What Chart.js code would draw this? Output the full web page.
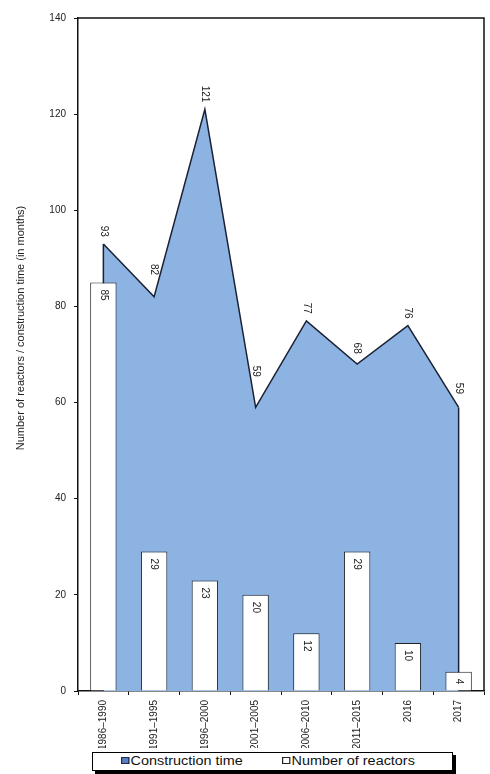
<!DOCTYPE html>
<html>
<head>
<meta charset="utf-8">
<script src="https://cdn.jsdelivr.net/npm/chart.js@4"></script>
<style>
  html, body { margin: 0; padding: 0; background: #fff; }
  #wrap { position: relative; width: 490px; height: 774px; }
  #chartBox { position: absolute; left: 0; top: 0; width: 490px; height: 748px; }
  #legend {
    position: absolute; left: 92px; top: 752px; width: 359px; height: 17px;
    border: 1px solid #000; box-shadow: 3px 3px 0 #000; background: #fff;
    font: 12px "Liberation Sans", Arial, sans-serif; color: #111;
  }
  #legend .item { position: absolute; top: 1px; white-space: nowrap; transform: scaleX(1.2); transform-origin: left center; }
  #legend span.sw { display: inline-block; width: 5px; height: 5px; border: 1px solid #222; margin-right: 1px; vertical-align: 1px; }
</style>
</head>
<body>
<div id="wrap">
  <div id="chartBox"><canvas id="myChart"></canvas></div>
  <div id="legend">
    <div class="item" style="left:28px"><span class="sw" style="background:#5a7fc0;border-color:#1f2a50"></span>Construction time</div>
    <div class="item" style="left:189px"><span class="sw" style="background:#fff"></span>Number of reactors</div>
  </div>
</div>
<script>
var categories = ["1986–1990", "1991–1995", "1996–2000", "2001–2005", "2006–2010", "2011–2015", "2016", "2017"];
var constructionTime = [93, 82, 121, 59, 77, 68, 76, 59];
var reactorCount = [85, 29, 23, 20, 12, 29, 10, 4];
var yMin = 0, yMax = 140, yStep = 20;
var yTitle = 'Number of reactors / construction time (in months)';

var labelFont = '10px "Liberation Sans", Arial, sans-serif';

// how far the line climbs above point i within dx pixels either side
function clearance(pts, i, dx) {
  var up = 0;
  [i - 1, i + 1].forEach(function (j) {
    if (j < 0 || j >= pts.length) return;
    var slope = (pts[i].y - pts[j].y) / Math.abs(pts[j].x - pts[i].x);
    if (slope > 0) up = Math.max(up, slope * dx);
  });
  return up;
}

// value labels, axis title, plus the vertical sides of the area
var valueLabels = {
  id: 'valueLabels',
  afterDatasetDraw: function (chart, args) {
    if (args.index !== 0) return;
    var ctx = chart.ctx;
    var pts = chart.getDatasetMeta(0).data;
    var y0 = chart.scales.y.getPixelForValue(0);
    ctx.save();
    ctx.strokeStyle = '#1b2236';
    ctx.lineWidth = 1.5;
    ctx.beginPath();
    ctx.moveTo(pts[0].x, pts[0].y); ctx.lineTo(pts[0].x, y0);
    var last = pts[pts.length - 1];
    ctx.moveTo(last.x, last.y); ctx.lineTo(last.x, y0);
    ctx.stroke();
    ctx.restore();
  },
  afterDatasetsDraw: function (chart) {
    var ctx = chart.ctx;
    ctx.save();
    ctx.font = labelFont;
    ctx.fillStyle = '#222';
    ctx.textAlign = 'center';
    ctx.textBaseline = 'middle';
    var pts = chart.getDatasetMeta(0).data;
    pts.forEach(function (p, i) {
      var t = String(constructionTime[i]);
      var w = ctx.measureText(t).width;
      var off = 7 + clearance(pts, i, 4);
      ctx.save();
      ctx.translate(p.x, p.y - off - w / 2);
      ctx.rotate(Math.PI / 2);
      ctx.fillText(t, 0, 0);
      ctx.restore();
    });
    chart.getDatasetMeta(1).data.forEach(function (b, i) {
      var t = String(reactorCount[i]);
      var w = ctx.measureText(t).width;
      ctx.save();
      ctx.translate(b.x, b.y + 7 + w / 2);
      ctx.rotate(Math.PI / 2);
      ctx.fillText(t, 0, 0);
      ctx.restore();
    });
    // frame round the plot area
    var a = chart.chartArea;
    ctx.strokeStyle = '#111';
    ctx.lineWidth = 1.5;
    ctx.beginPath();
    ctx.moveTo(a.left, a.top); ctx.lineTo(a.right, a.top); ctx.lineTo(a.right, a.bottom);
    ctx.stroke();
    // y axis title
    ctx.font = '11px "Liberation Sans", Arial, sans-serif';
    ctx.translate(21, 328);
    ctx.rotate(-Math.PI / 2);
    ctx.fillText(yTitle, 0, 0);
    ctx.restore();
  }
};

var ctx = document.getElementById("myChart");
var myChart = new Chart(ctx, {
  data: {
    labels: categories,
    datasets: [
      {
        type: 'line',
        label: 'Construction time',
        data: constructionTime,
        fill: 'origin',
        backgroundColor: '#8db3e2',
        borderColor: '#1b2236',
        borderWidth: 1.5,
        pointRadius: 0,
        tension: 0,
        order: 2
      },
      {
        type: 'bar',
        label: 'Number of reactors',
        data: reactorCount,
        backgroundColor: '#ffffff',
        borderColor: '#222222',
        borderWidth: 1,
        barPercentage: 0.52,
        categoryPercentage: 1,
        order: 1
      }
    ]
  },
  options: {
    responsive: true,
    maintainAspectRatio: false,
    animation: false,
    layout: { padding: { left: 0, right: 6, top: 18, bottom: 0 } },
    plugins: { legend: { display: false }, tooltip: { enabled: false } },
    scales: {
      x: {
        offset: true,
        grid: { offset: true, drawOnChartArea: false, tickLength: 4, color: '#111', lineWidth: 1 },
        border: { color: '#111', width: 1.5 },
        ticks: {
          minRotation: 90, maxRotation: 90, autoSkip: false, padding: 5,
          color: '#222', font: { family: '"Liberation Sans", Arial', size: 10 }
        },
        afterFit: function (s) { s.height = 57; }
      },
      y: {
        min: yMin, max: yMax,
        grid: { drawOnChartArea: false, tickLength: 4, color: '#111' },
        border: { color: '#111', width: 1.5 },
        ticks: {
          stepSize: yStep, padding: 8, color: '#222',
          font: { family: '"Liberation Sans", Arial', size: 10 }
        },
        afterFit: function (s) { s.width = 78; }
      }
    }
  },
  plugins: [valueLabels]
});
</script>
</body>
</html>
